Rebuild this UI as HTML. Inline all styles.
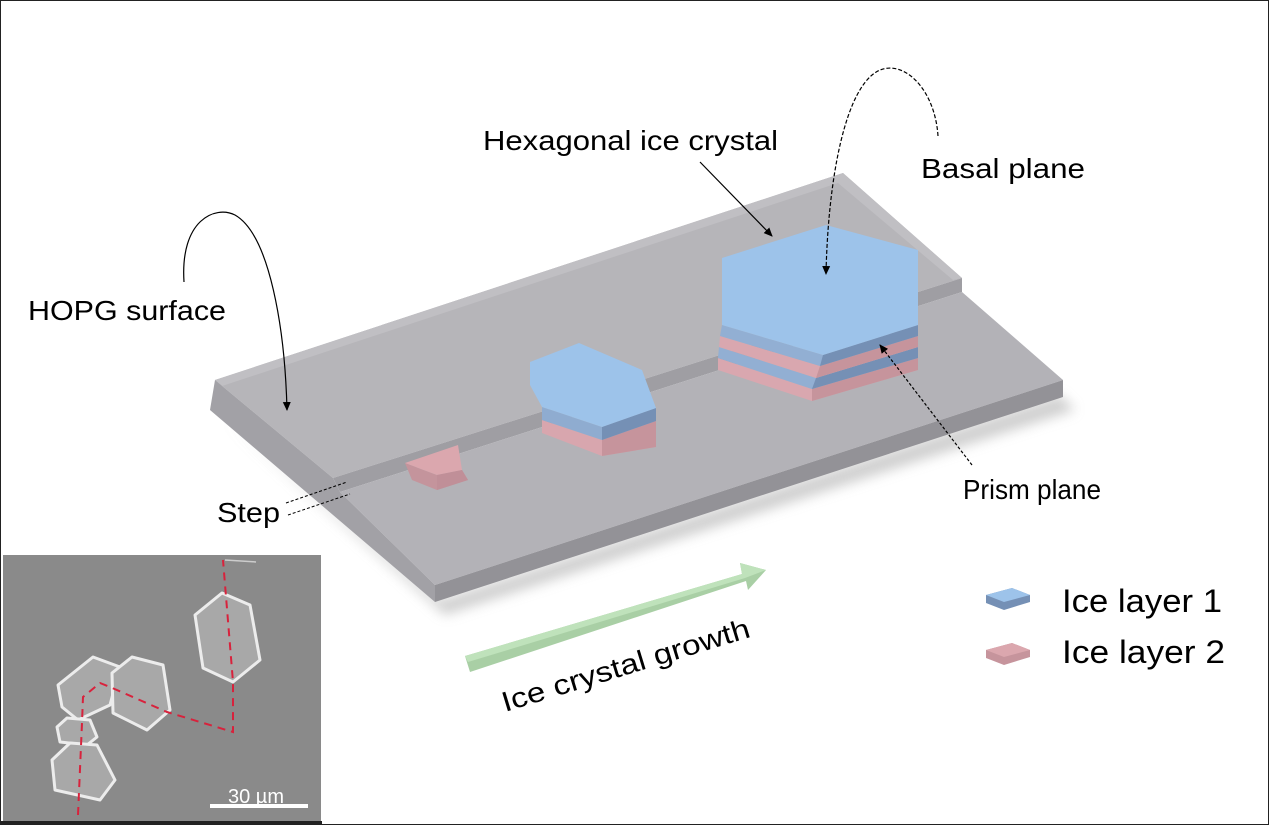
<!DOCTYPE html>
<html><head><meta charset="utf-8"><style>
html,body{margin:0;padding:0;background:#fff}
svg{display:block}
text{font-family:"Liberation Sans",sans-serif}
</style></head><body>
<svg width="1269" height="825" viewBox="0 0 1269 825" xmlns="http://www.w3.org/2000/svg">
<defs>
<marker id="ah" markerWidth="10" markerHeight="10" refX="8" refY="5" orient="auto" markerUnits="userSpaceOnUse"><path d="M0,1 L9,5 L0,9 z" fill="#000"/></marker>
<filter id="sh" x="-10%" y="-10%" width="130%" height="140%"><feGaussianBlur stdDeviation="6"/></filter>
</defs>
<rect x="0.5" y="0.5" width="1268" height="824" fill="#fff" stroke="#222" stroke-width="1"/>

<polygon points="225,420 445,615 1075,410 1060,395 440,600" fill="#bbb" filter="url(#sh)" opacity="0.7"/>
<!-- back slab -->
<polygon points="215,380 843,173 962,278 333,478" fill="#b6b5b9"/>
<polygon points="215,380 843,173 962,278 953,280 838,183 222,386" fill="#c0bfc3"/>
<polygon points="333,478 962,278 962,292 340,492" fill="#9f9ea3"/>
<!-- front slab -->
<polygon points="340,492 962,292 1063,380 435,585" fill="#b3b2b7"/>
<polygon points="215,380 333,478 340,492 435,585 435,602 210,410" fill="#a2a1a6"/>
<polygon points="435,585 1063,380 1063,397 435,602" fill="#939297"/>

<polygon points="405,463 412,480 437,490 468,480 462,470 437,475" fill="#c4949c"/>
<polygon points="405,463 458,445 462,470 437,475" fill="#dba7ae"/>
<polygon points="437,475 462,470 468,480 437,490" fill="#c08f98"/>

<g>
<polygon points="542,420 602,440 656,421 656,447 602,456 542,433" fill="#d8a6ae"/>
<polygon points="602,440 656,421 656,447 602,456" fill="#c6949c"/>
<polygon points="542,407 602,427 656,408 656,421 602,440 542,420" fill="#8facd0"/>
<polygon points="602,427 656,408 656,421 602,440" fill="#7590b5"/>
<polygon points="530,362 579,343 642,370 656,408 602,427 542,407 530,385" fill="#9dc3ea"/>
</g>

<g>
<polygon points="718,358 812,389 918,358 918,370 812,401 718,370" fill="#d9a7af"/>
<polygon points="812,389 918,358 918,370 812,401" fill="#c6949c"/>
<polygon points="719,347 816,378 918,347 918,358 812,389 718,358" fill="#92afd3"/>
<polygon points="816,378 918,347 918,358 812,389" fill="#7590b5"/>
<polygon points="720,336 820,366 918,336 918,347 816,378 719,347" fill="#d9a7af"/>
<polygon points="820,366 918,336 918,347 816,378" fill="#c6949c"/>
<polygon points="722,325 823,355 918,325 918,336 820,366 720,336" fill="#92afd3"/>
<polygon points="823,355 918,325 918,336 820,366" fill="#7590b5"/>
<polygon points="722,258 826,225 918,250 918,325 823,355 722,325" fill="#9dc3ea"/>
</g>

<polygon points="465,656 742,574 740,563 766,570 748,590 746,581 470,672" fill="#a9cfa5"/>
<polygon points="465,656 742,574 740,563 766,570 745,578 468,662" fill="#bfe2bb"/>
<text x="0" y="0" font-size="28" textLength="258" lengthAdjust="spacingAndGlyphs" transform="translate(505,712) rotate(-17)">Ice crystal growth</text>

<text x="483" y="150" font-size="28" textLength="295" lengthAdjust="spacingAndGlyphs">Hexagonal ice crystal</text>
<line x1="700" y1="162" x2="772" y2="236" stroke="#000" stroke-width="1.2" marker-end="url(#ah)"/>
<text x="921" y="178" font-size="28" textLength="164" lengthAdjust="spacingAndGlyphs">Basal plane</text>
<path d="M938,136 C935,90 905,60 880,70 C845,85 828,180 826,274" fill="none" stroke="#000" stroke-width="1.2" stroke-dasharray="4,2" marker-end="url(#ah)"/>
<text x="28" y="320" font-size="28" textLength="198" lengthAdjust="spacingAndGlyphs">HOPG surface</text>
<path d="M184,282 C180,220 215,205 235,215 C270,235 285,330 287,410" fill="none" stroke="#000" stroke-width="1.2" marker-end="url(#ah)"/>
<text x="217" y="522" font-size="28" textLength="63" lengthAdjust="spacingAndGlyphs">Step</text>
<line x1="286" y1="503" x2="347" y2="482" stroke="#000" stroke-width="1" stroke-dasharray="3,2"/>
<line x1="288" y1="515" x2="350" y2="494" stroke="#000" stroke-width="1" stroke-dasharray="3,2"/>
<text x="963" y="499" font-size="28" textLength="138" lengthAdjust="spacingAndGlyphs">Prism plane</text>
<line x1="972" y1="465" x2="880" y2="345" stroke="#000" stroke-width="1.2" stroke-dasharray="3,2" marker-end="url(#ah)"/>

<polygon points="986,595 1012,588 1030,595 1030,602 1004,610 986,603" fill="#7590b5"/>
<polygon points="986,595 1012,588 1030,595 1004,602" fill="#9dc3ea"/>
<text x="1062" y="612" font-size="32" textLength="160" lengthAdjust="spacingAndGlyphs">Ice layer 1</text>
<polygon points="986,650 1012,643 1030,650 1030,657 1004,665 986,658" fill="#c6949c"/>
<polygon points="986,650 1012,643 1030,650 1004,657" fill="#dba7ae"/>
<text x="1062" y="663" font-size="32" textLength="163" lengthAdjust="spacingAndGlyphs">Ice layer 2</text>

<rect x="3" y="555" width="318" height="266" fill="#8a8a8a"/>
<g fill="#a8a8a8" stroke="#ececec" stroke-width="3" stroke-linejoin="round">
<polygon points="195,615 222,593 250,605 260,660 233,682 203,668"/>
<polygon points="58,685 93,657 120,667 110,705 78,720 62,707"/>
<polygon points="112,673 132,657 163,665 170,710 147,730 113,713"/>
<polygon points="57,727 67,718 90,720 97,737 87,745 60,742"/>
<polygon points="52,760 70,743 97,745 115,780 100,800 55,790"/>
</g>
<line x1="225" y1="560" x2="256" y2="562" stroke="#ccc" stroke-width="1.5"/>
<polyline points="78,815 82,723 83,697 100,683 110,687 167,712 233,732 233,682 223,560" fill="none" stroke="#d8223c" stroke-width="2" stroke-dasharray="8,6"/>
<text x="228" y="803" font-size="20" fill="#fff">30 µm</text>
<rect x="210" y="804" width="98" height="4" fill="#fff"/>
<rect x="0" y="821" width="322" height="4" fill="#222"/>
</svg>
</body></html>
